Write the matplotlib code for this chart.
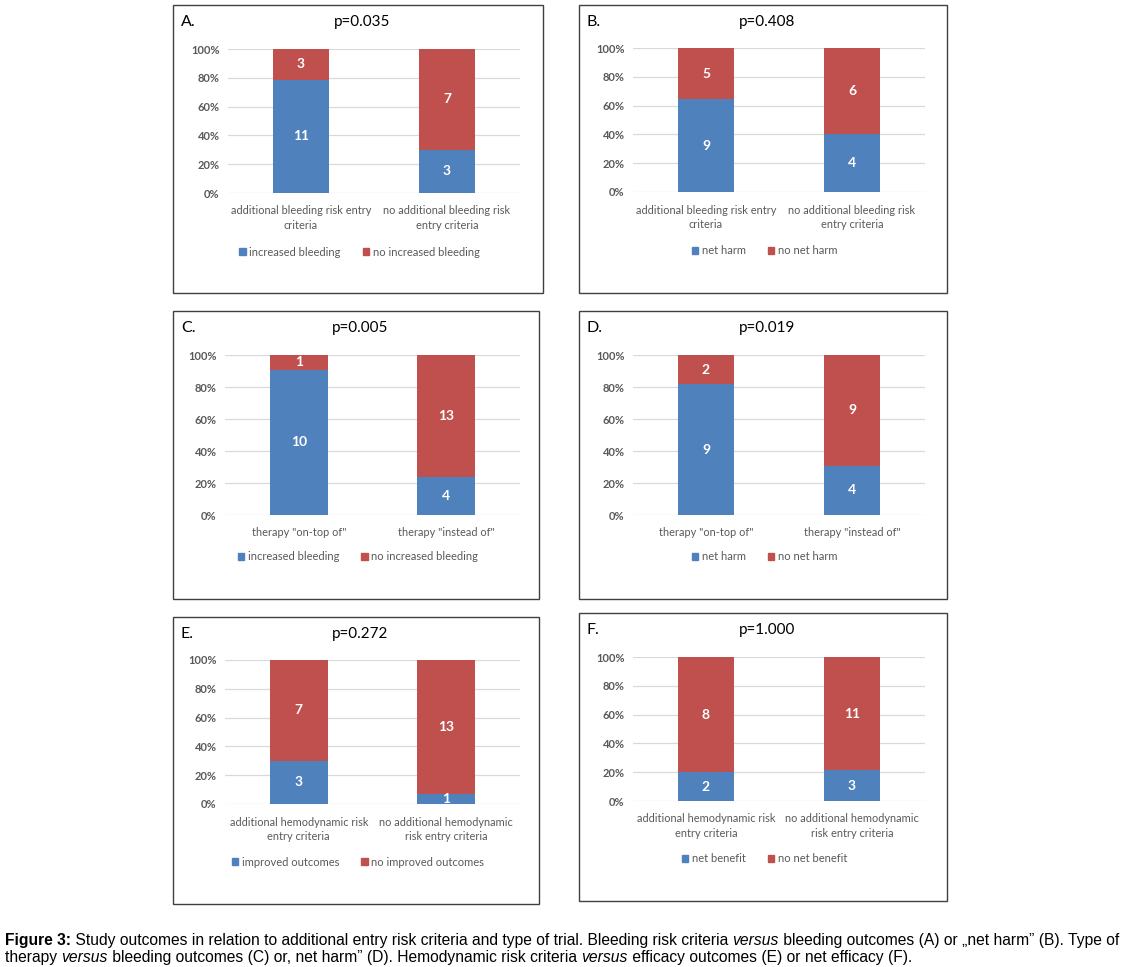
"""
Figure 3: stacked 100% bars, six panels, with caption
Output: out.png
"""

import matplotlib.pyplot as plt
from matplotlib.patches import Rectangle, Patch

W, H = 1127, 967
BLUE = '#4F81BD'
RED = '#C0504D'
GREY = '#595959'
GRID = '#D9D9D9'
FONT = ['Lato', 'DejaVu Sans']

# ── Data ─────────────────────────────────────────────────────────────────────
letters = ['A.', 'B.', 'C.', 'D.', 'E.', 'F.']
pvalues = ['p=0.035', 'p=0.408', 'p=0.005', 'p=0.019', 'p=0.272', 'p=1.000']

cats_bleed = ['additional bleeding risk entry\ncriteria',
              'no additional bleeding risk\nentry criteria']
cats_type = ['therapy "on-top of"', 'therapy "instead of"']
cats_hemo = ['additional hemodynamic risk\nentry criteria',
             'no additional hemodynamic\nrisk entry criteria']
categories = [cats_bleed, cats_bleed, cats_type, cats_type, cats_hemo, cats_hemo]

blue_counts = [[11, 3], [9, 4], [10, 4], [9, 4], [3, 1], [2, 3]]
red_counts = [[3, 7], [5, 6], [1, 13], [2, 9], [7, 13], [8, 11]]

blue_names = ['increased bleeding', 'net harm', 'increased bleeding',
              'net harm', 'improved outcomes', 'net benefit']
red_names = ['no increased bleeding', 'no net harm', 'no increased bleeding',
             'no net harm', 'no improved outcomes', 'no net benefit']

yticks = [0, 0.2, 0.4, 0.6, 0.8, 1.0]
ytick_labels = ['0%', '20%', '40%', '60%', '80%', '100%']

# ── Layout in pixels: panel box, plot area (left, right, top, bottom) ────────
boxes = [(173, 543, 5, 293), (579, 947, 5, 293),
         (173, 539, 311, 599), (579, 947, 311, 599),
         (173, 539, 617, 904), (579, 947, 613, 901)]
plots = [(228, 520, 49, 193), (633, 925, 48, 192),
         (225, 520, 355, 515), (633, 925, 355, 515),
         (225, 520, 660, 804), (633, 925, 657, 801)]
legend_gap = [59, 59, 42, 42, 58, 58]


def fx(px):
    return px / W


def fy(py):
    return 1 - py / H


fig = plt.figure(figsize=(W / 100, H / 100), dpi=100)
fig.patch.set_facecolor('white')

for i in range(6):
    bl, br, bt, bb = boxes[i]
    fig.patches.append(Rectangle((fx(bl), fy(bb)), fx(br - bl), (bb - bt) / H,
                                 transform=fig.transFigure, fill=False,
                                 edgecolor='#404040', linewidth=1.0))
    pl, pr, pt, pb = plots[i]
    ax = fig.add_axes([fx(pl), fy(pb), fx(pr - pl), (pb - pt) / H])

    blue = blue_counts[i]
    red = red_counts[i]
    tot = [b + r for b, r in zip(blue, red)]
    bfrac = [b / t for b, t in zip(blue, tot)]
    rfrac = [r / t for r, t in zip(red, tot)]
    x = [0, 1]

    for yv in yticks:
        ax.axhline(yv, color=GRID, linewidth=0.9, zorder=0)
    ax.bar(x, bfrac, width=0.39, color=BLUE, zorder=2, label=blue_names[i])
    ax.bar(x, rfrac, width=0.39, bottom=bfrac, color=RED, zorder=2,
           label=red_names[i])

    for xi in x:
        ax.text(xi, bfrac[xi] / 2, str(blue[xi]), ha='center', va='center',
                color='white', fontsize=10, fontweight='bold', family=FONT,
                zorder=3)
        ax.text(xi, bfrac[xi] + rfrac[xi] / 2, str(red[xi]), ha='center',
                va='center', color='white', fontsize=10, fontweight='bold',
                family=FONT, zorder=3)

    ax.set_xlim(-0.5, 1.5)
    ax.set_ylim(0, 1)
    ax.set_yticks(yticks)
    ax.set_yticklabels(ytick_labels, fontsize=8, fontweight='bold',
                       color=GREY, family=FONT)
    ax.set_xticks(x)
    ax.set_xticklabels(categories[i], fontsize=7.9, color=GREY, family=FONT,
                       linespacing=1.35)
    ax.tick_params(length=0, pad=6)
    ax.tick_params(axis='x', pad=9)
    for s in ax.spines.values():
        s.set_visible(False)

    handles = [Patch(color=BLUE), Patch(color=RED)]
    leg_y = legend_gap[i] / (pb - pt)
    leg = ax.legend(handles, [blue_names[i], red_names[i]], ncol=2,
                    loc='center', bbox_to_anchor=(0.45, -leg_y),
                    frameon=False, handlelength=0.6, handleheight=0.6,
                    handletextpad=0.3, columnspacing=2.0,
                    prop={'family': FONT, 'size': 8})
    for t in leg.get_texts():
        t.set_color(GREY)

    fig.text(fx(bl + 8), fy(bt + 17), letters[i], fontsize=11.5, family=FONT,
             va='center', ha='left', color='black')
    fig.text(fx((pl + pr) / 2 - 12), fy(bt + 17), pvalues[i], fontsize=11,
             family=FONT, va='center', ha='center', color='black')

# ── Caption with mixed styles ────────────────────────────────────────────────
CAP = ['Liberation Sans Narrow', 'Liberation Sans', 'DejaVu Sans']
line1 = [('Figure 3:', 'bold', 'normal'),
         (' Study outcomes in relation to additional entry risk criteria and type of trial. Bleeding risk criteria ', 'normal', 'normal'),
         ('versus', 'normal', 'italic'),
         (' bleeding outcomes (A) or \u201enet harm\u201d (B). Type of', 'normal', 'normal')]
line2 = [('therapy ', 'normal', 'normal'),
         ('versus', 'normal', 'italic'),
         (' bleeding outcomes (C) or, net harm\u201d (D). Hemodynamic risk criteria ', 'normal', 'normal'),
         ('versus', 'normal', 'italic'),
         (' efficacy outcomes (E) or net efficacy (F).', 'normal', 'normal')]

renderer = fig.canvas.get_renderer()


def line_width(pieces, size):
    total = 0
    for txt, wt, st in pieces:
        t = fig.text(0, 0, txt, fontsize=size, fontweight=wt, fontstyle=st,
                     family=CAP)
        total += t.get_window_extent(renderer=renderer).width
        t.remove()
    return total


def draw_line(pieces, x0, py, size):
    xpos = x0
    for txt, wt, st in pieces:
        t = fig.text(xpos / W, fy(py), txt, fontsize=size, fontweight=wt,
                     fontstyle=st, family=CAP, va='baseline', ha='left',
                     color='black')
        xpos += t.get_window_extent(renderer=renderer).width


cap_size = 11.0 * 1112 / line_width(line1, 11.0)
draw_line(line1, 5, 945, cap_size)
draw_line(line2, 5, 962, cap_size)

fig.savefig('out.png', dpi=100, facecolor='white')
plt.close()
print('Tersimpan: out.png')
